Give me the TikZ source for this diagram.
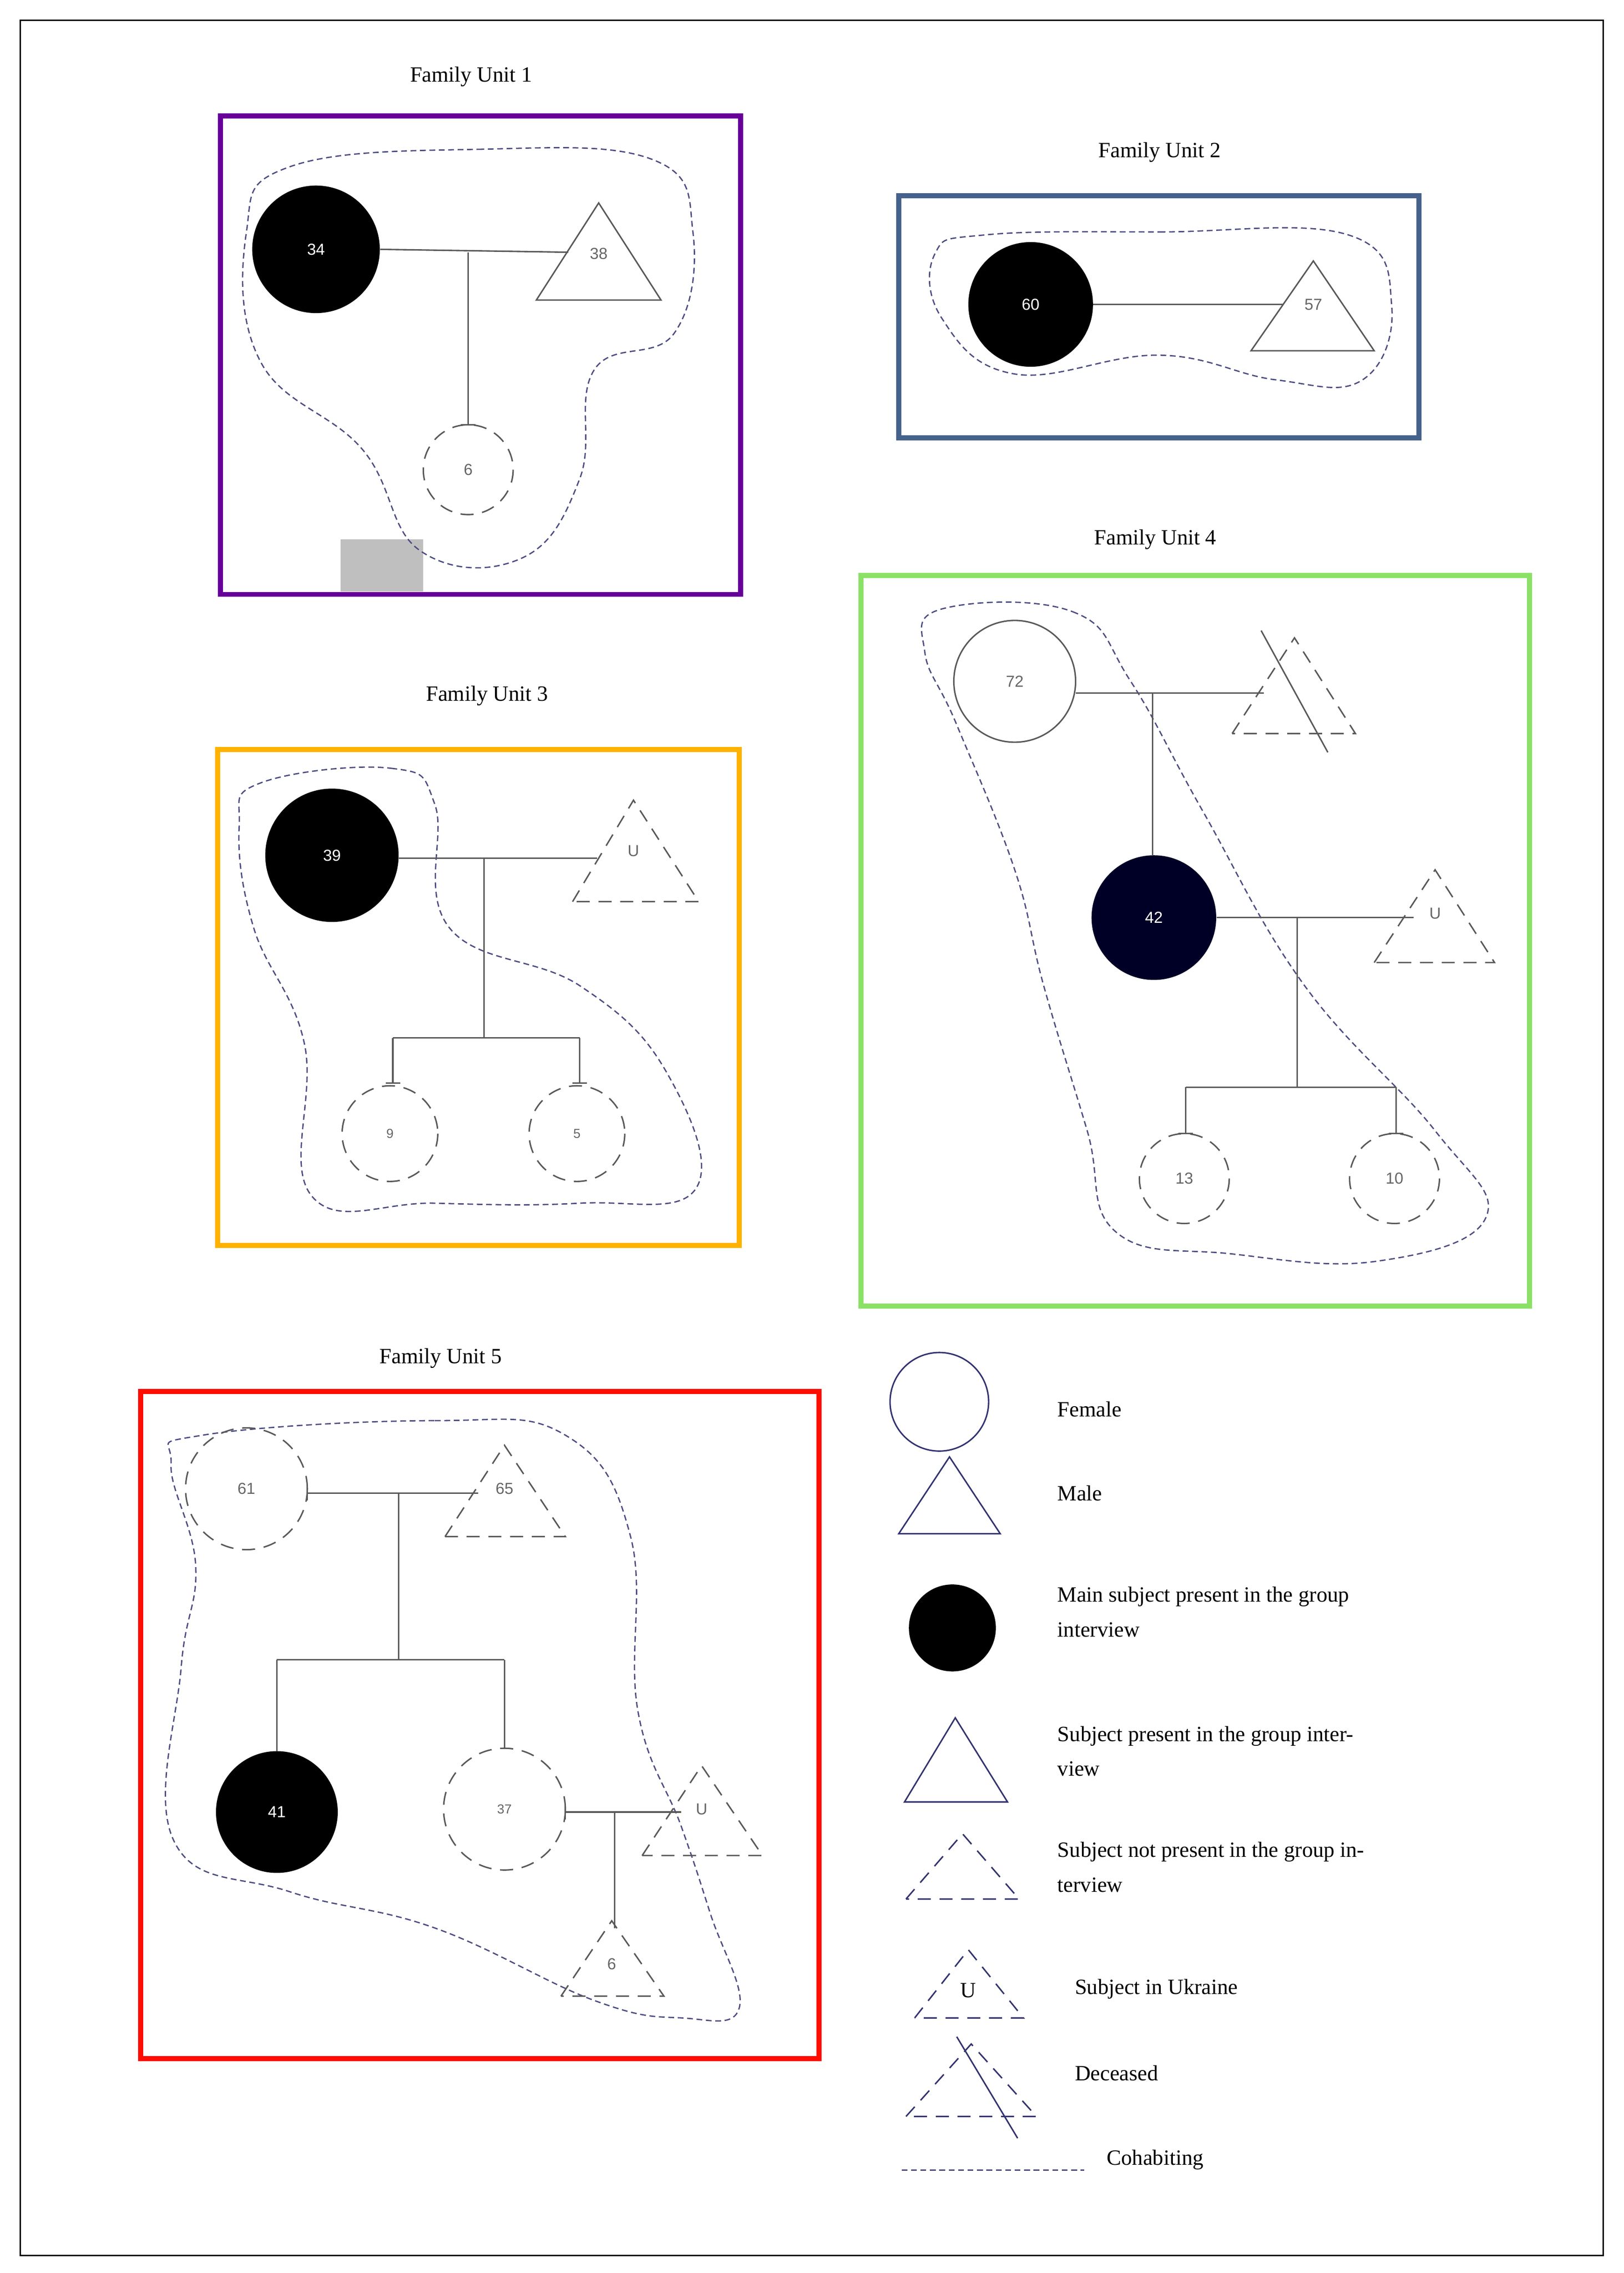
\documentclass[tikz,border=0pt]{standalone}
\usepackage{fontspec}
\setmainfont{Liberation Serif}
\newfontfamily\numf{Liberation Sans}
\begin{document}
\begin{tikzpicture}[x=1pt,y=-1pt,
 ttl/.style={font=\fontsize{15}{17}\selectfont},
 leg/.style={font=\fontsize{15}{24}\selectfont,anchor=west,align=left},
 num/.style={font=\numf\fontsize{11}{12}\selectfont,text=gray!80!black},
 box/.style={line width=3.5pt},
 ln/.style={draw=gray!70!black,line width=1pt},
 dsh/.style={dash pattern=on 9pt off 6pt},
 blob/.style={draw=blue!30!black!70,dash pattern=on 4pt off 2.5pt,line width=0.9pt},
 lg/.style={draw=blue!30!black!80,line width=1pt}]
\useasboundingbox (0,0) rectangle (1120,1568);
\draw[line width=1pt] (14,14) rectangle (1106,1556);
% ---------- FU1
\node[ttl] (t1) at (325,53) {Family Unit 1};
\draw[box,draw=violet!80!blue] (152,80) rectangle (511,410);
\fill[gray!50] (235,372) rectangle (292,408);
\draw[blob] plot[smooth cycle,tension=0.7] coordinates{(200,115)(330,103)(450,110)(478,160)(465,230)(410,255)(400,330)(360,385)(290,380)(250,310)(180,250)(170,160)};
\node[circle,fill=black,minimum size=88pt,inner sep=0,text=white,font=\numf\fontsize{11}{12}\selectfont] (a1) at (218,172) {34};
\draw[ln] (370,207)--(413,140)--(456,207)--cycle; \node[num] (a2) at (413,175) {38};
\coordinate (a3) at (392,174);
\draw[ln] (a1.east)--(a3);
\draw[ln] (323,174)--(323,293) (318,293)--(328,293);
\draw[ln,dsh] (323,324) circle (31); \node[num] (a4) at (323,324) {6};
% ---------- FU2
\node[ttl] (t2) at (800,105) {Family Unit 2};
\draw[box,draw=cyan!50!blue!60!black] (620,135) rectangle (979,302);
\draw[blob] plot[smooth cycle,tension=0.7] coordinates{(680,162)(800,160)(930,162)(960,210)(940,262)(880,262)(800,245)(700,258)(650,220)(645,175)};
\node[circle,fill=black,minimum size=86pt,inner sep=0,text=white,font=\numf\fontsize{11}{12}\selectfont] (b1) at (711,210) {60};
\draw[ln] (863,242)--(906,180)--(948,242)--cycle; \node[num] (b2) at (906,210) {57};
\coordinate (b3) at (885,210);
\draw[ln] (b1.east)--(b3);
% ---------- FU3
\node[ttl] (t3) at (336,480) {Family Unit 3};
\draw[box,draw=orange!60!yellow] (150,517) rectangle (510,859);
\draw[blob] plot[smooth cycle,tension=0.7] coordinates{(180,540)(270,530)(300,555)(310,640)(400,680)(460,740)(480,820)(400,830)(300,830)(215,825)(210,720)(175,640)(165,570)};
\node[circle,fill=black,minimum size=92pt,inner sep=0,text=white,font=\numf\fontsize{11}{12}\selectfont] (c1) at (229,590) {39};
\draw[ln,dsh] (395,622)--(437,552)--(482,622)--cycle; \node[num] (c2) at (437,587) {U};
\coordinate (c3) at (412,592);
\draw[ln] (c1.east|-c3)--(c3);
\draw[ln] (334,592)--(334,716) (271,716)--(400,716) (271,716)--(271,747) (400,716)--(400,747) (266,747)--(276,747) (395,747)--(405,747);
\draw[ln,dsh] (269,782) circle (33); \node[num,font=\numf\fontsize{9}{10}\selectfont] (c4) at (269,782) {9};
\draw[ln,dsh] (398,782) circle (33); \node[num,font=\numf\fontsize{9}{10}\selectfont] (c5) at (398,782) {5};
% ---------- FU4
\node[ttl] (t4) at (797,372) {Family Unit 4};
\draw[box,draw=green!60!lime!80!black!60] (594,397) rectangle (1055,901);
\draw[blob] plot[smooth cycle,tension=0.7] coordinates{(650,420)(740,422)(780,470)(830,560)(900,680)(990,780)(1025,840)(950,870)(850,865)(770,850)(750,780)(720,680)(700,600)(660,500)(638,450)};
\node[circle,draw=gray!70!black,line width=1pt,fill=white,minimum size=84pt,inner sep=0] (d1) at (700,470) {};
\node[num] at (700,470) {72};
\draw[ln,dsh] (850,506)--(893,440)--(935,506)--cycle;
\draw[ln] (870,435)--(916,519);
\coordinate (d2) at (872,478);
\draw[ln] (742,478)--(d2);
\draw[ln] (795,478)--(795,590);
\node[circle,fill=black!85!blue,minimum size=86pt,inner sep=0,text=white,font=\numf\fontsize{11}{12}\selectfont] (d3) at (796,633) {42};
\draw[ln,dsh] (948,664)--(990,600)--(1031,664)--cycle; \node[num] (d4) at (990,630) {U};
\coordinate (d5) at (975,633);
\draw[ln] (d3.east)--(d5);
\draw[ln] (895,633)--(895,750) (818,750)--(963,750) (818,750)--(818,782) (963,750)--(963,782) (813,782)--(823,782) (958,782)--(968,782);
\draw[ln,dsh] (817,813) circle (31); \node[num] (d6) at (817,813) {13};
\draw[ln,dsh] (962,813) circle (31); \node[num] (d7) at (962,813) {10};
% ---------- FU5
\node[ttl] (t5) at (304,937) {Family Unit 5};
\draw[box,draw=red!90!orange] (97,960) rectangle (565,1420);
\draw[blob] plot[smooth cycle,tension=0.7] coordinates{(140,990)(300,980)(390,990)(435,1060)(440,1180)(470,1260)(490,1320)(510,1385)(470,1392)(410,1380)(300,1330)(200,1305)(120,1270)(125,1150)(135,1080)(118,1010)};
\draw[ln,dsh] (170,1027) circle (42); \node[num] (e1) at (170,1027) {61};
\draw[ln,dsh] (307,1060)--(348,997)--(390,1060)--cycle; \node[num] (e2) at (348,1027) {65};
\coordinate (e3) at (330,1030);
\draw[ln] (212,1030)--(e3) (212,1025)--(212,1035);
\draw[ln] (275,1030)--(275,1145) (191,1145)--(348,1145) (191,1145)--(191,1208) (348,1145)--(348,1206);
\node[circle,fill=black,minimum size=84pt,inner sep=0,text=white,font=\numf\fontsize{11}{12}\selectfont] (e4) at (191,1250) {41};
\draw[ln,dsh] (348,1248) circle (42); \node[num,font=\numf\fontsize{9}{10}\selectfont] (e5) at (348,1248) {37};
\draw[ln,dsh] (443,1280)--(484,1218)--(526,1280)--cycle; \node[num] (e6) at (484,1248) {U};
\coordinate (e7) at (470,1250);
\draw[ln] (390,1250)--(e7) (390,1245)--(390,1255);
\draw[ln] (424,1250)--(424,1330);
\draw[ln,dsh] (387,1377)--(422,1325)--(458,1377)--cycle; \node[num] (e8) at (422,1355) {6};
% ---------- Legend
\draw[lg] (648,967) circle (34); \node[leg] (l1) at (726,972) {Female};
\draw[lg] (620,1058)--(655,1005)--(690,1058)--cycle; \node[leg] (l2) at (726,1030) {Male};
\fill[black] (657,1123) circle (30); \node[leg] (l3) at (726,1112) {Main subject present in the group\\interview};
\draw[lg] (624,1243)--(659,1185)--(695,1243)--cycle; \node[leg] (l4) at (726,1208) {Subject present in the group inter-\\view};
\draw[lg,dsh] (625,1310)--(664,1265)--(703,1310)--cycle; \node[leg] (l5) at (726,1288) {Subject not present in the group in-\\terview};
\draw[lg,dsh] (631,1392)--(668,1345)--(706,1392)--cycle; \node[font=\fontsize{15}{17}\selectfont] at (668,1373) {U};
\node[leg] (l6) at (738,1372) {Subject in Ukraine};
\draw[lg,dsh] (625,1460)--(670,1410)--(715,1460)--cycle; \draw[lg] (660,1405)--(702,1475);
\node[leg] (l7) at (738,1430) {Deceased};
\coordinate (c1a) at (622,1497); \coordinate (c1b) at (748,1497);
\draw[blob,line width=1.2pt] (c1a)--(c1b); \node[leg] (l8) at (760,1490) {Cohabiting};
\end{tikzpicture}
\end{document}
